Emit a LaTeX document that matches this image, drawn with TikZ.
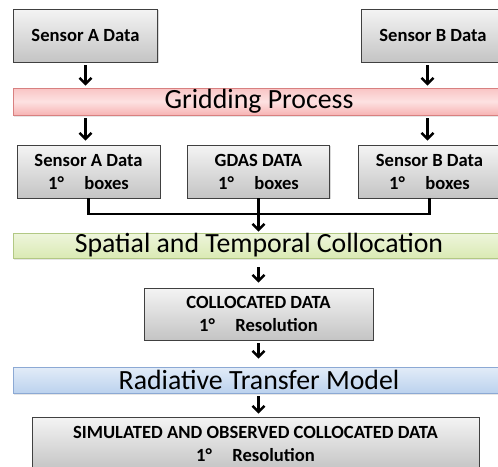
\documentclass[tikz,border=0pt]{standalone}
\usepackage{fontspec}
\setmainfont{Carlito}
\usetikzlibrary{arrows.meta,shadows}
\definecolor{boxtop}{HTML}{F4F4F4}
\definecolor{boxbot}{HTML}{C4C4C4}
\definecolor{pinktop}{HTML}{F9C4C4}
\definecolor{pinkmid}{HTML}{FDE2E2}
\definecolor{pinkbot}{HTML}{F7B4B4}
\definecolor{pinkline}{HTML}{D88080}
\definecolor{greentop}{HTML}{EEF5DC}
\definecolor{greenbot}{HTML}{DAEAB4}
\definecolor{greenline}{HTML}{B2C884}
\definecolor{bluetop}{HTML}{E2ECF8}
\definecolor{bluebot}{HTML}{BCD2EE}
\definecolor{blueline}{HTML}{8CA9D4}
\begin{document}
\begin{tikzpicture}[x=1pt,y=-1pt,
  databox/.style={draw=black!75,line width=0.9pt,top color=boxtop,bottom color=boxbot,
    drop shadow={shadow xshift=1.2pt,shadow yshift=-1.2pt,opacity=0.3},
    align=center,inner sep=0pt,font=\fontsize{18.6}{23}\selectfont\bfseries},
  band/.style={line width=0.8pt,inner sep=0pt,minimum width=492pt,
    font=\fontsize{27.8}{30}\selectfont,
    drop shadow={shadow xshift=1pt,shadow yshift=-1.5pt,opacity=0.2}},
  arr/.style={-{Straight Barb[length=6pt,width=12pt,line width=2.5pt]},line width=2.5pt,black},
  link/.style={line width=2.2pt,black}]
\useasboundingbox (0,0) rectangle (498,466);

% sensor inputs
\node[databox,minimum width=144pt,minimum height=53pt] (senA) at (85.5,35.5) {Sensor A Data};
\node[databox,minimum width=144pt,minimum height=53pt] (senB) at (433,35.5) {Sensor B Data};
\coordinate (colB) at (427.5,0);

% gridding
\node[band,draw=pinkline,top color=pinktop,bottom color=pinkbot,middle color=pinkmid,
  minimum height=27pt] (grid) at (259,101.5) {Gridding Process};

% gridded boxes
\node[databox,minimum width=143pt,minimum height=53pt] (gridA) at (88.5,171.5) {Sensor A Data\\1°\hspace{1.1em}boxes};
\node[databox,minimum width=142pt,minimum height=53pt] (gdas) at (258.5,171.5) {GDAS DATA\\1°\hspace{1.1em}boxes};
\node[databox,minimum width=143pt,minimum height=53pt] (gridB) at (429.5,171.5) {Sensor B Data\\1°\hspace{1.1em}boxes};

% collocation
\node[band,draw=greenline,top color=greentop,bottom color=greenbot,
  minimum height=25pt] (colloc) at (259,245.5) {Spatial and Temporal Collocation};
\node[databox,minimum width=229pt,minimum height=52pt] (coldata) at (258.5,314) {COLLOCATED DATA\\1°\hspace{1.1em}Resolution};

% radiative transfer
\node[band,draw=blueline,top color=bluetop,bottom color=bluebot,
  minimum height=26pt] (rtm) at (259,380) {Radiative Transfer Model};
\node[databox,minimum width=447pt,minimum height=53pt] (simdata) at (255.5,443.5) {SIMULATED AND OBSERVED COLLOCATED DATA\\1°\hspace{1.1em}Resolution};

% arrows
\draw[arr,shorten <=3pt,shorten >=2pt] (senA) -- (senA |- grid.north);
\draw[arr,shorten <=3pt,shorten >=2pt] (senB.south -| colB) -- (colB |- grid.north);
\draw[arr,shorten <=3pt,shorten >=4pt] (grid.south -| senA) -- (senA |- gridA.north);
\draw[arr,shorten <=3pt,shorten >=4pt] (grid.south -| colB) -- (colB |- gridB.north);
\coordinate (join) at (258.5,214);
\draw[link] (gridA.south) |- (join) -| (gridB.south);
\draw[arr,shorten >=1pt] (gdas) -- (gdas |- colloc.north);
\draw[arr,shorten <=9pt,shorten >=5pt] (colloc.south -| gdas) -- (gdas |- coldata.north);
\draw[arr,shorten <=3pt,shorten >=8pt] (coldata) -- (coldata |- rtm.north);
\draw[arr,shorten <=3pt,shorten >=3pt] (rtm.south -| coldata) -- (coldata |- simdata.north);
\end{tikzpicture}
\end{document}
